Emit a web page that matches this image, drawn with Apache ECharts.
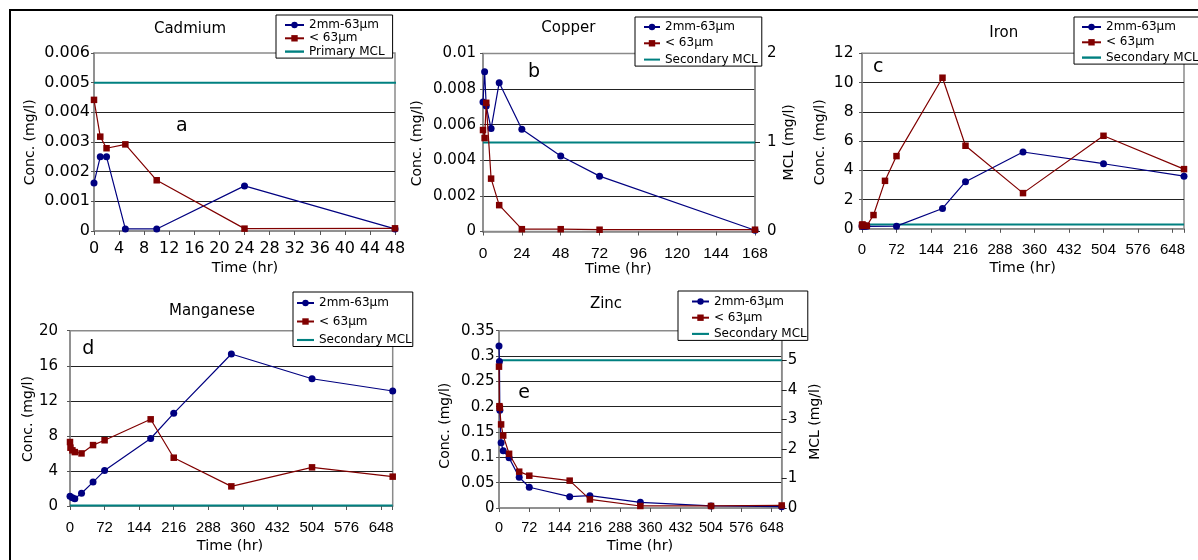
<!DOCTYPE html>
<html>
<head>
<meta charset="utf-8">
<script src="https://cdn.jsdelivr.net/npm/echarts@6/dist/echarts.min.js"></script>
<style>
  html, body { margin: 0; padding: 0; background: #fff; }
  #chart { width: 1198px; height: 560px; }
</style>
</head>
<body>
<div id="chart"></div>
<script>
// ---- Leaching data: concentration (mg/l) against time (hr) ----
const COARSE = '2mm-63µm';
const FINE = '< 63µm';

// Cadmium
const cdTime = [0, 1, 2, 5, 10, 24, 48];
const cdCoarse = [0.00162, 0.0025, 0.0025, 0.00007, 0.00007, 0.00152, 0.00007];
const cdFine = [0.00442, 0.00318, 0.00279, 0.00292, 0.00171, 0.00008, 0.00009];
const cdMclTime = [0, 49];
const cdMcl = [0.005, 0.005];

// Copper (MCL read on the right-hand axis)
const cuTime = [0, 1, 2, 5, 10, 24, 48, 72, 168];
const cuCoarse = [0.00727, 0.00897, 0.00705, 0.00578, 0.00836, 0.00574, 0.00424, 0.00311, 0.00007];
const cuFine = [0.0057, 0.00525, 0.00723, 0.00297, 0.00148, 0.00013, 0.00013, 0.0001, 0.0001];
const cuMclTime = [0, 168];
const cuMcl = [1, 1];

// Iron
const feCoarseTime = [0, 1, 2, 5, 10, 72, 168, 216, 336, 504, 672];
const feCoarse = [0.2, 0.18, 0.2, 0.15, 0.17, 0.18, 1.39, 3.22, 5.25, 4.45, 3.6];
const feFineTime = [0, 1, 2, 5, 10, 24, 48, 72, 168, 216, 336, 504, 672];
const feFine = [0.25, 0.3, 0.2, 0.22, 0.2, 0.94, 3.28, 4.97, 10.33, 5.68, 2.44, 6.36, 4.08];
const feMclTime = [0, 672];
const feMcl = [0.3, 0.3];

// Manganese
const mnCoarseTime = [0, 5, 10, 24, 48, 72, 168, 216, 336, 504, 672];
const mnCoarse = [1.1, 0.93, 0.84, 1.46, 2.73, 4.04, 7.7, 10.57, 17.34, 14.52, 13.12];
const mnFineTime = [0, 1, 5, 10, 24, 48, 72, 168, 216, 336, 504, 672];
const mnFine = [7.3, 6.65, 6.35, 6.15, 6.0, 6.95, 7.5, 9.89, 5.51, 2.24, 4.41, 3.35];
const mnMclTime = [0, 672];
const mnMcl = [0.05, 0.05];

// Zinc (MCL read on the right-hand axis)
const znTime = [0, 1, 2, 5, 10, 24, 48, 72, 168, 216, 336, 504, 672];
const znCoarse = [0.32, 0.289, 0.193, 0.129, 0.113, 0.099, 0.0606, 0.041, 0.0223, 0.0243, 0.0112, 0.004, 0.0026];
const znFine = [0.279, 0.201, 0.198, 0.165, 0.143, 0.107, 0.0717, 0.0638, 0.054, 0.017, 0.004, 0.004, 0.005];
const znMclTime = [0, 672];
const znMcl = [5, 5];

// Axis ranges: [min, max, step]
const cdTimeTicks = [0, 48, 4];
const cdConcTicks = [0, 0.006, 0.001];
const cuTimeTicks = [0, 168, 24];
const cuConcTicks = [0, 0.01, 0.002];
const cuMclTicks = [0, 2, 1];
const feTimeTicks = [0, 672, 72];
const feConcTicks = [0, 12, 2];
const mnTimeTicks = [0, 672, 72];
const mnConcTicks = [0, 20, 4];
const znTimeTicks = [0, 672, 72];
const znConcTicks = [0, 0.35, 0.05];
const znMclTicks = [0, 6, 1];

// ---- styling ----
const FONT = 'DejaVu Sans';
const NARROW = 'Liberation Sans';
const BLUE = '#000080';
const RED = '#800000';
const TEAL = '#008080';
const AXIS_GRAY = '#8a8a8a';
const MCL_ICON = 'path://M0 0H24V3H0Z';

const pairs = (t, v) => t.map((x, i) => [x, v[i]]);

const panels = [
  {
    title: 'Cadmium', letter: 'a', mclName: 'Primary MCL',
    grid: { left: 94, top: 53, width: 301, height: 178 },
    xTicks: cdTimeTicks, yTicks: cdConcTicks, xMargin: 9.5, yMargin: 4,
    xFont: [FONT, 16], yFont: 16,
    coarse: pairs(cdTime, cdCoarse), fine: pairs(cdTime, cdFine), mcl: pairs(cdMclTime, cdMcl),
    legend: { left: 276, top: 15, itemWidth: 19, padding: [3.5, 8, 0, 8], itemGap: 0.3 },
    text: { title: [190, 29.5], letter: [181.7, 126], yName: [30, 142.3], xName: [245, 268.3] }
  },
  {
    title: 'Copper', letter: 'b', mclName: 'Secondary MCL',
    grid: { left: 483, top: 53.5, width: 272, height: 178 },
    xTicks: cuTimeTicks, yTicks: cuConcTicks, rTicks: cuMclTicks, xMargin: 14, yMargin: 7, rMargin: 12,
    xFont: [NARROW, 15.5], yFont: 15,
    coarse: pairs(cuTime, cuCoarse), fine: pairs(cuTime, cuFine), mcl: pairs(cuMclTime, cuMcl),
    legend: { left: 635, top: 17, itemWidth: 16, padding: [3.5, 4, 0, 8], itemGap: 3.3 },
    text: { title: [568.3, 28], letter: [534, 72], yName: [417.3, 143.3], xName: [618.3, 269.3], rName: [789, 142.3] }
  },
  {
    title: 'Iron', letter: 'c', mclName: 'Secondary MCL',
    grid: { left: 862, top: 53.3, width: 322, height: 175.5 },
    xTicks: feTimeTicks, yTicks: feConcTicks, xMargin: 13.5, yMargin: 8.5,
    xFont: [NARROW, 15], yFont: 15.5,
    coarse: pairs(feCoarseTime, feCoarse), fine: pairs(feFineTime, feFine), mcl: pairs(feMclTime, feMcl),
    legend: { left: 1074, top: 17, itemWidth: 19, padding: [3.5, 3, 0, 7], itemGap: 2.3 },
    text: { title: [1003.7, 33], letter: [878.3, 67], yName: [820, 142.3], xName: [1022.7, 268.3] }
  },
  {
    title: 'Manganese', letter: 'd', mclName: 'Secondary MCL',
    grid: { left: 70, top: 330.7, width: 322.7, height: 175.3 },
    xTicks: mnTimeTicks, yTicks: mnConcTicks, xMargin: 14.5, yMargin: 12,
    xFont: [NARROW, 15], yFont: 15,
    coarse: pairs(mnCoarseTime, mnCoarse), fine: pairs(mnFineTime, mnFine), mcl: pairs(mnMclTime, mnMcl),
    legend: { left: 293, top: 292, itemWidth: 17, padding: [4.5, 1, 0, 3], itemGap: 5.5 },
    text: { title: [212, 311], letter: [88.3, 349], yName: [28.3, 419], xName: [230, 546.7] }
  },
  {
    title: 'Zinc', letter: 'e', mclName: 'Secondary MCL',
    grid: { left: 499, top: 330.7, width: 282.7, height: 177.3 },
    xTicks: znTimeTicks, yTicks: znConcTicks, rTicks: znMclTicks, xMargin: 12.5, yMargin: 4.5, rMargin: 6,
    xFont: [NARROW, 14.5], yFont: 15,
    coarse: pairs(znTime, znCoarse), fine: pairs(znTime, znFine), mcl: pairs(znMclTime, znMcl),
    legend: { left: 678, top: 291, itemWidth: 17, padding: [4, 1, 0, 13], itemGap: 3.2 },
    text: { title: [606, 304.5], letter: [524, 393.5], yName: [445, 425.7], xName: [640, 546.7], rName: [815, 421.7] }
  }
];

const grids = [], xAxes = [], yAxes = [], series = [], legends = [], graphics = [];

function textEl(text, pos, size, vertical) {
  return {
    type: 'text', x: pos[0], y: pos[1], rotation: vertical ? Math.PI / 2 : 0, z: 50,
    style: {
      text, fill: '#000', fontSize: size, fontFamily: FONT,
      align: 'center', verticalAlign: 'middle', textAlign: 'center', textVerticalAlign: 'middle'
    }
  };
}

panels.forEach((p, i) => {
  grids.push(Object.assign({ show: true, borderColor: AXIS_GRAY, borderWidth: 1.5, backgroundColor: 'transparent', containLabel: false, outerBoundsMode: 'none' }, p.grid));

  const step = p.xTicks[2];
  xAxes.push({
    type: 'value', gridIndex: i, min: p.xTicks[0], max: p.xTicks[1], interval: step,
    axisLine: { show: true, lineStyle: { color: AXIS_GRAY, width: 1.5 } },
    axisTick: { show: true, length: 4, lineStyle: { color: '#555' } },
    splitLine: { show: false },
    axisLabel: {
      color: '#000', fontFamily: p.xFont[0], fontSize: p.xFont[1], margin: p.xMargin, hideOverlap: false,
      formatter: v => (Math.abs(v / step - Math.round(v / step)) < 1e-6 ? String(v) : '')
    }
  });

  const yLabel = { color: '#000', fontFamily: FONT, fontSize: p.yFont };
  const leftIndex = yAxes.length;
  yAxes.push({
    type: 'value', gridIndex: i, position: 'left', min: p.yTicks[0], max: p.yTicks[1], interval: p.yTicks[2],
    axisLine: { show: true, lineStyle: { color: AXIS_GRAY, width: 1.5 } },
    axisTick: { show: true, length: 3, lineStyle: { color: '#555' } },
    splitLine: { show: true, showMinLine: false, showMaxLine: false, lineStyle: { color: '#222', width: 1.2 } },
    axisLabel: Object.assign({ margin: p.yMargin }, yLabel)
  });

  let mclIndex = leftIndex;
  if (p.rTicks) {
    mclIndex = yAxes.length;
    yAxes.push({
      type: 'value', gridIndex: i, position: 'right', min: p.rTicks[0], max: p.rTicks[1], interval: p.rTicks[2],
      axisLine: { show: true, lineStyle: { color: AXIS_GRAY, width: 1.5 } },
      axisTick: { show: true, length: 5, lineStyle: { color: '#222' } },
      splitLine: { show: false },
      axisLabel: Object.assign({ margin: p.rMargin, showMaxLabel: p.rTicks[1] <= 2 }, yLabel)
    });
  }

  series.push({
    type: 'line', name: p.mclName, xAxisIndex: i, yAxisIndex: mclIndex, data: p.mcl,
    symbol: 'none', clip: false, silent: true, z: 2,
    lineStyle: { color: TEAL, width: 2 }, itemStyle: { color: TEAL }
  });
  series.push({
    type: 'line', name: COARSE, xAxisIndex: i, yAxisIndex: leftIndex, data: p.coarse,
    symbol: 'circle', symbolSize: 7, clip: false, z: 3,
    lineStyle: { color: BLUE, width: 1.2 }, itemStyle: { color: BLUE }
  });
  series.push({
    type: 'line', name: FINE, xAxisIndex: i, yAxisIndex: leftIndex, data: p.fine,
    symbol: 'rect', symbolSize: 6.5, clip: false, z: 4,
    lineStyle: { color: RED, width: 1.2 }, itemStyle: { color: RED }
  });

  legends.push(Object.assign({
    orient: 'vertical', selectedMode: false, z: 20,
    backgroundColor: '#fff', borderColor: '#000', borderWidth: 1, borderRadius: 0,
    itemHeight: 8,
    textStyle: { color: '#000', fontFamily: FONT, fontSize: 12, lineHeight: 13 },
    data: [COARSE, FINE, { name: p.mclName, icon: MCL_ICON }]
  }, p.legend));

  graphics.push(textEl(p.title, p.text.title, 15));
  graphics.push(textEl(p.letter, p.text.letter, 19));
  graphics.push(textEl('Conc. (mg/l)', p.text.yName, 14, true));
  graphics.push(textEl('Time (hr)', p.text.xName, 14.5));
  if (p.text.rName) graphics.push(textEl('MCL (mg/l)', p.text.rName, 14, true));
});

// figure frame along the top and left edges
graphics.push({ type: 'line', z: 60, shape: { x1: 9, y1: 10, x2: 1198, y2: 10 }, style: { stroke: '#000', lineWidth: 2 } });
graphics.push({ type: 'line', z: 60, shape: { x1: 10, y1: 9, x2: 10, y2: 560 }, style: { stroke: '#000', lineWidth: 2 } });

const chart = echarts.init(document.getElementById('chart'), null, { renderer: 'canvas' });
chart.setOption({
  animation: false,
  backgroundColor: '#fff',
  grid: grids,
  xAxis: xAxes,
  yAxis: yAxes,
  legend: legends,
  series: series,
  graphic: graphics
});
</script>
</body>
</html>
